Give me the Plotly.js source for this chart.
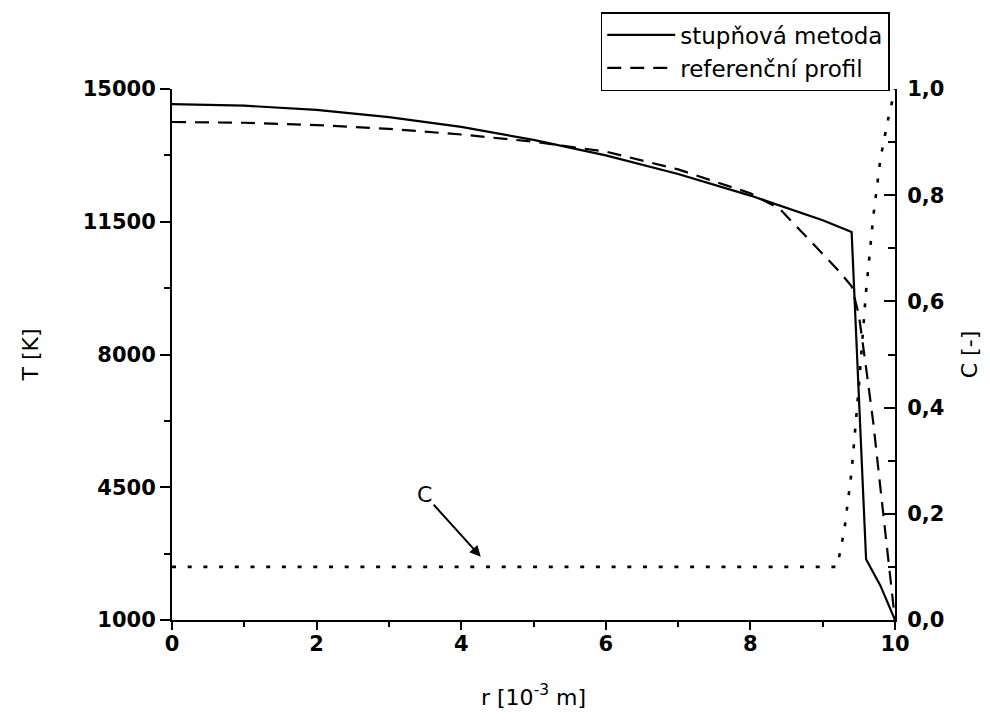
<!DOCTYPE html>
<html>
<head>
<meta charset="utf-8">
<script src="https://cdn.plot.ly/plotly-3.0.1.min.js"></script>
<style>html,body{margin:0;padding:0;background:#fff;}</style>
</head>
<body>
<div id="chart" style="width:990px;height:728px;"></div>
<script>
// Data
const rStep = [0, 1, 2, 3, 4, 5, 6, 7, 8, 9, 9.4, 9.6, 9.8, 10];
const tStep = [14600, 14560, 14450, 14260, 14000, 13660, 13250, 12760, 12190, 11540, 11230, 2600, 1900, 1000];

const rRef = [0, 1, 2, 3, 4, 5, 6, 7, 8, 8.4, 8.8, 9.0, 9.2, 9.4, 9.5, 9.6, 9.7, 9.8, 9.9, 10];
const tRef = [14130, 14110, 14050, 13950, 13800, 13610, 13350, 12880, 12250, 11850, 11050, 10650, 10250, 9800, 9050, 7650, 6200, 4450, 2650, 1000];

const rC = [0, 9.2, 9.3, 9.4, 9.5, 9.6, 9.7, 9.8, 9.9, 10];
const cVal = [0.1, 0.1, 0.17, 0.28, 0.44, 0.62, 0.76, 0.87, 0.94, 1.0];

const nameStep = 'stupňová metoda';
const nameRef = 'referenční profil';

const yTicks = [1000, 4500, 8000, 11500, 15000];

const FONT = 'DejaVu Sans, Liberation Sans, Arial, sans-serif';
const tickFont = {family: FONT, size: 21, color: '#000', weight: 'bold'};
const titleFont = {family: FONT, size: 22, color: '#000'};

const traces = [
  {x: rStep, y: tStep, type: 'scatter', mode: 'lines', name: nameStep,
   line: {color: '#000', width: 2.2}},
  {x: rRef, y: tRef, type: 'scatter', mode: 'lines', name: nameRef,
   line: {color: '#000', width: 2.2, dash: '14px,9px'}},
  {x: rC, y: cVal, type: 'scatter', mode: 'lines', name: 'C', yaxis: 'y2', showlegend: false,
   line: {color: '#000', width: 2.6, dash: '4px,11.7px'}}
];

const layout = {
  width: 990, height: 728,
  margin: {l: 172, r: 95, t: 89, b: 108},
  paper_bgcolor: '#fff', plot_bgcolor: '#fff',
  separators: ',.',
  showlegend: true,
  legend: {
    x: 0.593, y: 1.145, xanchor: 'left', yanchor: 'top',
    bordercolor: '#000', borderwidth: 1.5, bgcolor: '#fff',
    font: {family: FONT, size: 23, color: '#000'},
    itemwidth: 68, tracegroupgap: 0
  },
  xaxis: {
    range: [0, 10], tick0: 0, dtick: 2,
    showgrid: false, zeroline: false,
    showline: true, linecolor: '#000', linewidth: 2,
    ticks: 'outside', ticklen: 8, tickwidth: 2, tickcolor: '#000',
    minor: {dtick: 1, ticks: 'outside', ticklen: 5, tickwidth: 2, tickcolor: '#000', showgrid: false},
    tickfont: tickFont, ticklabelstandoff: -4,
    title: {text: 'r [10<sup>-3</sup> m]', font: titleFont, standoff: 34}
  },
  yaxis: {
    range: [1000, 15000], tickvals: yTicks, ticktext: yTicks.map(String),
    showgrid: false, zeroline: false,
    showline: true, linecolor: '#000', linewidth: 2,
    ticks: 'outside', ticklen: 10, tickwidth: 2, tickcolor: '#000',
    minor: {tick0: 1000, dtick: 1750, ticks: 'outside', ticklen: 6, tickwidth: 2, tickcolor: '#000', showgrid: false},
    tickfont: tickFont,
    title: {text: 'T [K]', font: titleFont, standoff: 38}
  },
  yaxis2: {
    overlaying: 'y', side: 'right', anchor: 'x',
    range: [0, 1], tick0: 0, dtick: 0.2, tickformat: '.1f',
    showgrid: false, zeroline: false,
    showline: true, linecolor: '#000', linewidth: 2,
    ticks: 'inside', ticklen: 11, tickwidth: 2, tickcolor: '#000',
    minor: {dtick: 0.1, ticks: 'inside', ticklen: 7, tickwidth: 2, tickcolor: '#000', showgrid: false},
    tickfont: tickFont, ticklabelstandoff: 6,
    title: {text: 'C [-]', font: titleFont, standoff: 18}
  },
  annotations: [{
    x: 4.27, y: 0.119, xref: 'x', yref: 'y2',
    text: 'C', showarrow: true, arrowhead: 2, arrowsize: 1.1, arrowwidth: 2, arrowcolor: '#000',
    ax: -56, ay: -62, font: {family: FONT, size: 22, color: '#000'}
  }]
};

Plotly.newPlot('chart', traces, layout, {displayModeBar: false, staticPlot: true});
</script>
</body>
</html>
